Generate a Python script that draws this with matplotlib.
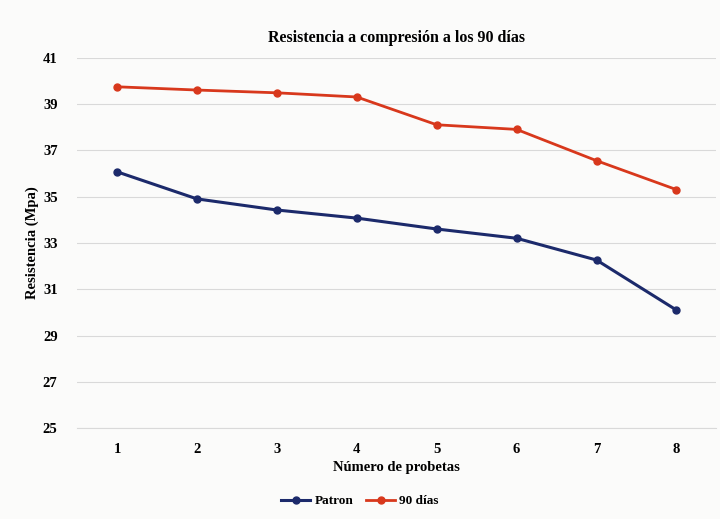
import matplotlib.pyplot as plt

# Datos de resistencia por probeta
probetas = [1, 2, 3, 4, 5, 6, 7, 8]
patron = [36.07, 34.9, 34.42, 34.07, 33.6, 33.2, 32.26, 30.1]
dias_90 = [39.74, 39.6, 39.48, 39.3, 38.1, 37.9, 36.55, 35.3]
yticks = [25, 27, 29, 31, 33, 35, 37, 39, 41]

plt.rcParams['font.family'] = ['Liberation Serif', 'DejaVu Serif']
plt.rcParams['font.weight'] = 'bold'

fig = plt.figure(figsize=(7.2, 5.19), dpi=100)
fig.patch.set_facecolor('#fbfbfa')
ax = fig.add_axes([0.107, 0.175, 0.888, 0.714])
ax.set_facecolor('#fbfbfa')

ax.plot(probetas, patron, color='#1c2a6b', lw=2.2, marker='o', ms=5, label='Patron')
ax.plot(probetas, dias_90, color='#d8381c', lw=2.0, marker='o', ms=5, label='90 días')

ax.set_xlim(0.5, 8.5)
ax.set_ylim(25, 41)
ax.set_xticks(probetas)
ax.set_yticks(yticks)
ax.grid(axis='y', color='#d9d9d9', lw=0.8)
ax.axhline(25, color='#d9d9d9', lw=0.8, clip_on=False, zorder=0)
ax.set_axisbelow(True)
for s in ax.spines.values():
    s.set_visible(False)
ax.tick_params(length=0, labelsize=10.5)
ax.tick_params(axis='x', pad=11)
ax.tick_params(axis='y', pad=14)

ax.set_title('Resistencia a compresión a los 90 días', fontsize=11.5,
             fontweight='bold', pad=11)
ax.set_xlabel('Número de probetas', fontsize=10.5, fontweight='bold', labelpad=3)
ax.set_ylabel('Resistencia (Mpa)', fontsize=10.5, fontweight='bold', labelpad=3)

fig.legend(loc='lower center', bbox_to_anchor=(0.5, 0.0), ncol=2, frameon=False,
           fontsize=9.5, handlelength=2.2, columnspacing=1.0, handletextpad=0.3)

fig.savefig('out.png', dpi=100, facecolor=fig.get_facecolor())
